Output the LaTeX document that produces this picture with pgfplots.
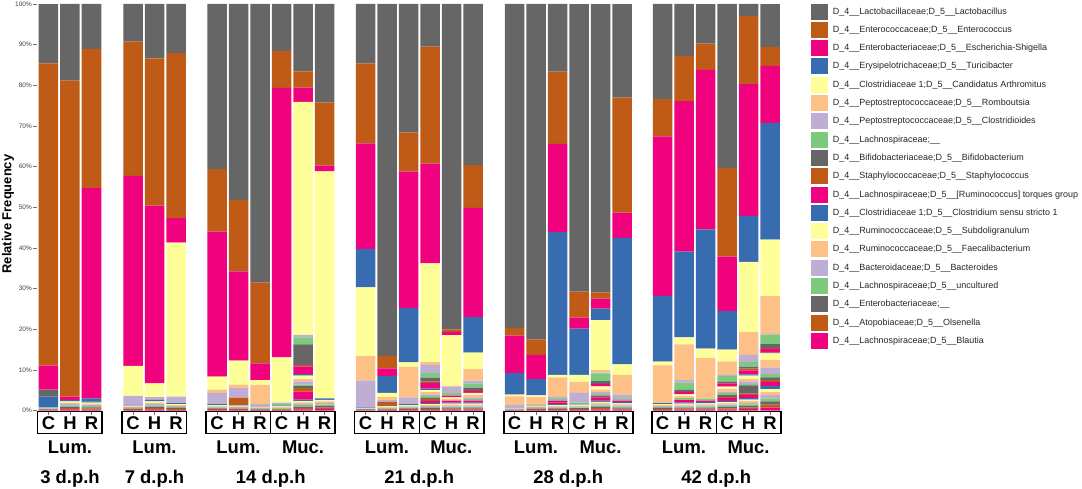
\documentclass[border=0pt]{standalone}
\usepackage{fontspec}
\setmainfont{Liberation Sans}
\usepackage{pgfplots}
\usepackage{pgfplotstable}
\pgfplotsset{compat=1.18}
\definecolor{cA}{HTML}{666666}
\definecolor{cB}{HTML}{BF5B17}
\definecolor{cC}{HTML}{F0027F}
\definecolor{cD}{HTML}{386CB0}
\definecolor{cE}{HTML}{FFFF99}
\definecolor{cF}{HTML}{FDC086}
\definecolor{cG}{HTML}{BEAED4}
\definecolor{cH}{HTML}{7FC97F}
\pgfplotstableread{
x o s1 s2 s3 s4 s5 s6 s7 s8 s9 s10 s11 s12 s13 s14 s15 s16 s17 s18 s19
48.5 0.11 14.6 74.3 5.9 0 0 0 0 0 1.7 0 0 2.6 0 0 0 0 0 0 0
70 0.33 18.9 77.7 0.8 0 0 0 0 0 0 0 0 0 0 0 0 0 0 0 0
91.5 0.28 11.1 34.2 51.7 0 0 0 0 0 0 0 0 0.8 0 0 0 0 0 0 0
133 0.18 9.3 33 46.7 0 7.4 0 2.2 0 0 0 0 0 0 0 0 0 0 0 0
154.5 0.33 13.4 36.2 43.7 0 3.4 0 0.7 0 0 0 0 0 0 0 0 0 0 0 0
176 0.23 12.1 40.6 6.0 0 37.9 0 1.6 0 0 0 0 0 0 0 0 0 0 0 0
217 0.2 40.6 15.4 35.6 0 3.2 0.8 2.8 0 0 0 0 0 0 0 0 0 0 0 0
238.5 0.18 48.2 17.6 21.9 0 5.9 0.9 2.3 0 0 1.8 0 0 0 0 0 0 0 0 0
260 0.14 68.5 19.9 4.1 0 1.2 4.7 0.5 0 0 0 0 0 0 0 0 0 0 0 0
281.5 0.15 11.5 9.1 66.3 0 11.1 0 0.4 0.4 0 0 0 0 0 0 0 0 0 0 0
303 0.34 16.6 4.0 3.5 0 57.3 0 0.6 1.7 5.1 0.3 1.9 0.4 0.8 0.6 0.8 0.4 0.5 0.8 2.0
324.5 0.38 24.2 15.6 1.4 0 55.8 0 0 0 0 0 0 0 0 0 0 0 0 0 0
365.5 0.1 14.6 19.7 25.9 9.5 16.9 6.0 6.6 0 0 0 0 0 0 0 0 0 0 0 0
387 0.15 86.6 3.0 1.9 4.1 1.0 0.8 0.4 0 0 1.0 0 0 0 0 0 0 0 0 0
408.5 0.2 31.6 9.6 33.6 13.3 1.1 7.5 1.7 0 0 0 0 0 0 0 0 0 0 0 0
430 0.23 10.5 28.8 24.5 0 24.3 0.7 2.0 1.1 1.0 0.3 1.4 0.4 0.5 0.5 0.4 0.5 0.3 0.4 0.6
451.5 0.25 80 0.6 0.8 0 12.5 0.2 1.6 0.6 0 0 0.4 0 0.4 0.4 0 0 0 0 0.5
473 0.25 39.6 10.5 26.9 8.7 4.1 2.8 0.7 1.0 0.8 0 0.5 0 0.5 0.6 0.4 0.4 0 0 0.5
514.5 0.08 79.7 1.9 9.2 5.3 0.4 2.1 0.8 0 0 0 0 0 0 0 0 0 0 0 0
536 0.18 82.5 3.8 6.0 4.0 0.4 1.9 0 0 0 0 0 0 0 0 0 0 0 0 0
557.5 0.2 16.6 17.8 21.7 35.1 0.6 4.8 0.5 0.5 0 0 0.4 0 0 0 0 0 0 0 0.4
579 0.21 70.7 6.4 2.7 11.4 1.7 2.7 2.4 0.3 0 0 0 0 0 0 0 0 0 0 0
600.5 0.31 70.9 1.5 2.5 2.8 12.3 0.6 0.2 1.9 0.7 0 0.6 0 0.8 0.6 0.5 0.4 0.4 0 0.8
622 0.26 23 28.3 6.2 31.1 2.6 4.8 1.1 0.4 0 0 0.4 0 0 0 0 0 0 0 0
662.5 0.23 23.4 9.2 39.2 16.2 0.9 9.3 0 0 0 0 0 0 0 0 0 0 0 0 0
684 0.25 12.8 11.1 37 21.1 1.7 8.8 0.6 1.8 0.5 0 0.6 0 0.4 0.5 0 0.5 0 0 0.6
705.5 0.26 9.7 6.5 39.2 29.3 2.3 10 0 0.5 0 0 0.4 0 0 0 0 0 0 0 0
727 0.3 40.3 21.8 13.4 9.5 2.9 3.3 0.3 1.4 0.4 0 0.8 0 0.6 0.6 0.4 0.5 0.4 0.3 0.7
748.5 0.39 3 16.7 32.4 11.3 17.3 5.6 1.7 1.2 0.5 0.4 1.0 0.3 0.8 0.6 0.6 0.4 2.0 0.3 0.8
770 0.76 10.5 4.7 14 28.7 13.9 9.3 0.2 2.3 1.0 0.2 0.9 0.2 1.6 1.9 1.6 0.8 0.6 0.5 1.0
}\data

\begin{document}
\begin{tikzpicture}
\useasboundingbox (-37bp,-78.3bp) rectangle (1045bp,410.7bp);
\begin{axis}[
  scale only axis, width=745bp, height=406.7bp,
  xmin=37, xmax=782, ymin=0, ymax=100,
  ybar stacked, bar width=19.5,
  xtick=\empty,
  ytick={0,10,...,100},
  yticklabels={0\%,10\%,20\%,30\%,40\%,50\%,60\%,70\%,80\%,90\%,100\%},
  ytick pos=left,
  axis line style={draw=none},
  tick align=outside, major tick length=4bp,
  ytick style={draw=black!55, line width=0.6bp},
  yticklabel style={font=\fontsize{6.5}{7}\selectfont, text=black!75, inner sep=1bp},
  ylabel={Relative Frequency},
  every axis y label/.style={at={(axis description cs:-0.0389,0.4837)}, rotate=90, anchor=center, font=\bfseries\fontsize{13}{15}\selectfont},
  legend image code/.code={\fill[#1] (0bp,-8bp) rectangle (16.7bp,8bp); \path (21.7bp,0bp);},
  reverse legend,
  legend cell align=left,
  legend style={draw=none, fill=none, at={(axis description cs:1.0389,1.0017)}, anchor=north west, font=\fontsize{9}{10}\selectfont, row sep=2.3bp, inner sep=0pt, nodes={inner sep=0pt}, text=black!85},
]
% low-abundance remainder stripes (not in legend)
\addplot[fill=cC,draw=none,forget plot] table[x=x,y=o]{\data};
\addplot[fill=cB,draw=none,forget plot] table[x=x,y=o]{\data};
\addplot[fill=cA,draw=none,forget plot] table[x=x,y=o]{\data};
\addplot[fill=cH,draw=none,forget plot] table[x=x,y=o]{\data};
\addplot[fill=cG,draw=none,forget plot] table[x=x,y=o]{\data};
\addplot[fill=cF,draw=none,forget plot] table[x=x,y=o]{\data};
\addplot[fill=cE,draw=none,forget plot] table[x=x,y=o]{\data};
\addplot[fill=cD,draw=none,forget plot] table[x=x,y=o]{\data};
% legend taxa
\addplot[fill=cC,draw=none] table[x=x,y=s19]{\data};
\addlegendentry{D\_4\_\_Lachnospiraceae;D\_5\_\_Blautia}
\addplot[fill=cB,draw=none] table[x=x,y=s18]{\data};
\addlegendentry{D\_4\_\_Atopobiaceae;D\_5\_\_Olsenella}
\addplot[fill=cA,draw=none] table[x=x,y=s17]{\data};
\addlegendentry{D\_4\_\_Enterobacteriaceae;\_\_}
\addplot[fill=cH,draw=none] table[x=x,y=s16]{\data};
\addlegendentry{D\_4\_\_Lachnospiraceae;D\_5\_\_uncultured}
\addplot[fill=cG,draw=none] table[x=x,y=s15]{\data};
\addlegendentry{D\_4\_\_Bacteroidaceae;D\_5\_\_Bacteroides}
\addplot[fill=cF,draw=none] table[x=x,y=s14]{\data};
\addlegendentry{D\_4\_\_Ruminococcaceae;D\_5\_\_Faecalibacterium}
\addplot[fill=cE,draw=none] table[x=x,y=s13]{\data};
\addlegendentry{D\_4\_\_Ruminococcaceae;D\_5\_\_Subdoligranulum}
\addplot[fill=cD,draw=none] table[x=x,y=s12]{\data};
\addlegendentry{D\_4\_\_Clostridiaceae 1;D\_5\_\_Clostridium sensu stricto 1}
\addplot[fill=cC,draw=none] table[x=x,y=s11]{\data};
\addlegendentry{D\_4\_\_Lachnospiraceae;D\_5\_\_[Ruminococcus] torques group}
\addplot[fill=cB,draw=none] table[x=x,y=s10]{\data};
\addlegendentry{D\_4\_\_Staphylococcaceae;D\_5\_\_Staphylococcus}
\addplot[fill=cA,draw=none] table[x=x,y=s9]{\data};
\addlegendentry{D\_4\_\_Bifidobacteriaceae;D\_5\_\_Bifidobacterium}
\addplot[fill=cH,draw=none] table[x=x,y=s8]{\data};
\addlegendentry{D\_4\_\_Lachnospiraceae;\_\_}
\addplot[fill=cG,draw=none] table[x=x,y=s7]{\data};
\addlegendentry{D\_4\_\_Peptostreptococcaceae;D\_5\_\_Clostridioides}
\addplot[fill=cF,draw=none] table[x=x,y=s6]{\data};
\addlegendentry{D\_4\_\_Peptostreptococcaceae;D\_5\_\_Romboutsia}
\addplot[fill=cE,draw=none] table[x=x,y=s5]{\data};
\addlegendentry{D\_4\_\_Clostridiaceae 1;D\_5\_\_Candidatus Arthromitus}
\addplot[fill=cD,draw=none] table[x=x,y=s4]{\data};
\addlegendentry{D\_4\_\_Erysipelotrichaceae;D\_5\_\_Turicibacter}
\addplot[fill=cC,draw=none] table[x=x,y=s3]{\data};
\addlegendentry{D\_4\_\_Enterobacteriaceae;D\_5\_\_Escherichia-Shigella}
\addplot[fill=cB,draw=none] table[x=x,y=s2]{\data};
\addlegendentry{D\_4\_\_Enterococcaceae;D\_5\_\_Enterococcus}
\addplot[fill=cA,draw=none] table[x=x,y=s1]{\data};
\addlegendentry{D\_4\_\_Lactobacillaceae;D\_5\_\_Lactobacillus}
\end{axis}
\begin{scope}[x=1bp,y=1bp,shift={(-37bp,0bp)}]
\foreach \a/\b in {37.75/102.25, 122.25/186.75, 206.25/270.75, 270.75/335.25, 354.75/419.25, 419.25/483.75, 503.75/568.25, 568.25/632.75, 651.75/716.25, 716.25/780.75}
  {\draw[line width=1.5bp] (\a,-0.8) rectangle (\b,-23);}
\foreach \x/\l in {48.5/C,70/H,91.5/R,133/C,154.5/H,176/R,217/C,238.5/H,260/R,281.5/C,303/H,324.5/R,365.5/C,387/H,408.5/R,430/C,451.5/H,473/R,514.5/C,536/H,557.5/R,579/C,600.5/H,622/R,662.5/C,684/H,705.5/R,727/C,748.5/H,770/R}
  {\draw[black!55, line width=0.6bp] (\x,-0.8) -- (\x,-4);
   \node[anchor=base, inner sep=0pt, font=\bfseries\fontsize{18.5}{20}\selectfont] at (\x,-19.2) {\l};}
\foreach \x/\l in {70/Lum.,154.5/Lum.,238.5/Lum.,303/Muc.,387/Lum.,451.25/Muc.,536/Lum.,600.5/Muc.,684/Lum.,748.5/Muc.}
  {\node[anchor=base, inner sep=0pt, font=\bfseries\fontsize{18.5}{20}\selectfont] at (\x,-42.8) {\l};}
\foreach \x/\l in {70/3,154.5/7,270.75/14,419.25/21,568.25/28,716.25/42}
  {\node[anchor=base, inner sep=0pt, font=\bfseries\fontsize{18.5}{20}\selectfont] at (\x,-72.5) {\l{} d.p.h};}
\end{scope}
\end{tikzpicture}
\end{document}
